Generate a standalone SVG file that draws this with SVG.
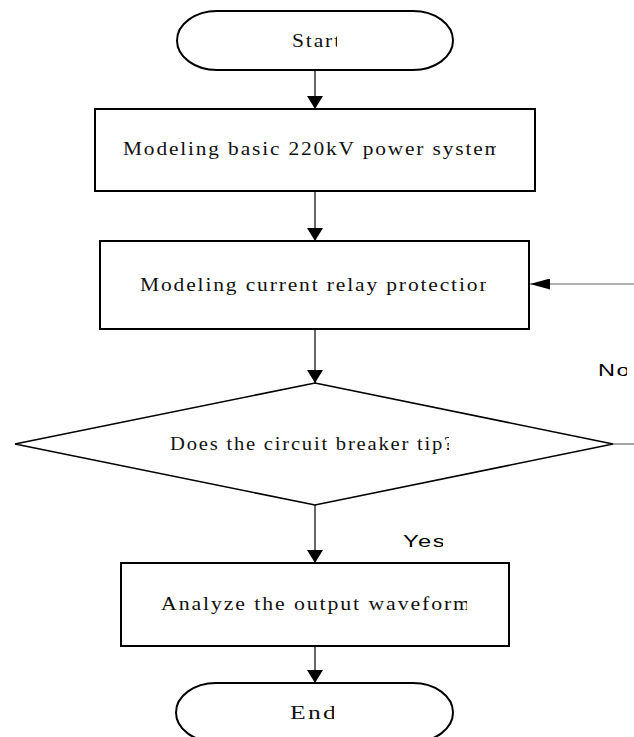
<svg xmlns="http://www.w3.org/2000/svg" width="634" height="737" viewBox="0 0 634 737">
  <style>
    .term { fill: #fff; stroke: #000; stroke-width: 2; }
    .box { fill: #fff; stroke: #000; stroke-width: 2; }
    .dec { fill: #fff; stroke: #000; stroke-width: 1.6; }
    .lbl { font-family: "Liberation Serif", "Times New Roman", serif; font-size: 18.5px; letter-spacing: 1.6px; fill: #111; }
    .edge-lbl { font-family: "Liberation Sans", Arial, sans-serif; font-size: 16px; letter-spacing: 1px; fill: #000; }
    .flow { fill: none; stroke: #000; stroke-width: 1.2; }
    .back { fill: none; stroke: #666; stroke-width: 1.2; }
  </style>
  <defs>
    <marker id="arrow" markerWidth="14" markerHeight="16" refX="13" refY="8" orient="auto" markerUnits="userSpaceOnUse">
      <path d="M0,0 L13,8 L0,16 Z" fill="#000"/>
    </marker>
    <marker id="arrow-thin" markerWidth="20" markerHeight="11" refX="20" refY="5.5" orient="auto" markerUnits="userSpaceOnUse">
      <path d="M0,0 L20,5.5 L0,11 Z" fill="#000"/>
    </marker>
    <!-- clip regions trimming the trailing glyph of each label -->
    <clipPath id="c-start"><rect x="0" y="0" width="337" height="80"/></clipPath>
    <clipPath id="c-model"><rect x="0" y="100" width="496" height="100"/></clipPath>
    <clipPath id="c-relay"><rect x="0" y="240" width="486" height="90"/></clipPath>
    <clipPath id="c-trip"><rect x="0" y="400" width="449" height="90"/></clipPath>
    <clipPath id="c-wave"><rect x="0" y="560" width="467" height="90"/></clipPath>
    <clipPath id="c-end"><rect x="0" y="680" width="334" height="57"/></clipPath>
    <clipPath id="c-no"><rect x="590" y="350" width="37" height="40"/></clipPath>
    <clipPath id="c-yes"><rect x="395" y="520" width="48" height="40"/></clipPath>
  </defs>

  <rect width="634" height="737" fill="#fff"/>

  <g id="connectors">
    <line class="flow" x1="315" y1="70" x2="315" y2="109" marker-end="url(#arrow)"/>
    <line class="flow" x1="315" y1="191" x2="315" y2="241" marker-end="url(#arrow)"/>
    <line class="flow" x1="315" y1="329" x2="315" y2="383" marker-end="url(#arrow)"/>
    <line class="flow" x1="315" y1="505" x2="315" y2="563" marker-end="url(#arrow)"/>
    <line class="flow" x1="315" y1="646" x2="315" y2="683" marker-end="url(#arrow)"/>
    <line class="back" x1="613" y1="444" x2="634" y2="444"/>
    <line class="back" x1="634" y1="284" x2="530" y2="284" marker-end="url(#arrow-thin)"/>
    <text class="edge-lbl" x="598" y="376" textLength="33" lengthAdjust="spacingAndGlyphs" clip-path="url(#c-no)">No</text>
    <text class="edge-lbl" x="403" y="547" textLength="43" lengthAdjust="spacingAndGlyphs" clip-path="url(#c-yes)">Yes</text>
  </g>

  <g id="start">
    <rect class="term" x="177" y="11" width="276" height="59" rx="40" ry="29.5"/>
    <text class="lbl" x="292" y="47" textLength="50" lengthAdjust="spacingAndGlyphs" clip-path="url(#c-start)">Start</text>
  </g>

  <g id="model-system">
    <rect class="box" x="95" y="109" width="440" height="82"/>
    <text class="lbl" x="123" y="155" textLength="380" lengthAdjust="spacingAndGlyphs" clip-path="url(#c-model)">Modeling basic 220kV power system</text>
  </g>

  <g id="model-relay">
    <rect class="box" x="100" y="241" width="429" height="88"/>
    <text class="lbl" x="140" y="291" textLength="352" lengthAdjust="spacingAndGlyphs" clip-path="url(#c-relay)">Modeling current relay protection</text>
  </g>

  <g id="breaker-trip">
    <polygon class="dec" points="315,383 613,444 315,505 15,444"/>
    <text class="lbl" x="170" y="450" textLength="285" lengthAdjust="spacingAndGlyphs" clip-path="url(#c-trip)">Does the circuit breaker tip?</text>
  </g>

  <g id="analyze">
    <rect class="box" x="121" y="563" width="388" height="83"/>
    <text class="lbl" x="161" y="610" textLength="311" lengthAdjust="spacingAndGlyphs" clip-path="url(#c-wave)">Analyze the output waveform</text>
  </g>

  <g id="end">
    <rect class="term" x="176" y="683" width="277" height="59" rx="40" ry="29.5"/>
    <text class="lbl" x="290" y="719" textLength="48" lengthAdjust="spacingAndGlyphs" clip-path="url(#c-end)">End</text>
  </g>
</svg>
